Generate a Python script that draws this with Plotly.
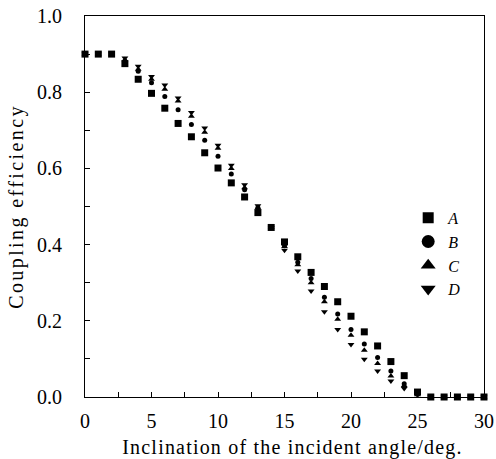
import plotly.graph_objects as go

angles = list(range(0, 31))
A = [0.9, 0.9, 0.9, 0.875, 0.834, 0.797, 0.758, 0.718, 0.683, 0.641, 0.601, 0.562, 0.525, 0.484, 0.445,
     0.407, 0.368, 0.327, 0.290, 0.250, 0.212, 0.171, 0.134, 0.093, 0.056, 0.013, 0, 0, 0, 0, 0]
B = [0.9, 0.9, 0.9, 0.880, 0.855, 0.825, 0.789, 0.754, 0.715, 0.674, 0.632, 0.585, 0.544, 0.497, 0.445,
     0.397, 0.354, 0.311, 0.262, 0.218, 0.177, 0.139, 0.104, 0.068, 0.035, 0.008, 0, 0, 0, 0, 0]
C = [0.9, 0.9, 0.9, 0.885, 0.860, 0.834, 0.808, 0.777, 0.737, 0.695, 0.653, 0.600, 0.549, 0.497, 0.445,
     0.395, 0.347, 0.300, 0.250, 0.204, 0.162, 0.123, 0.088, 0.055, 0.030, 0.006, 0, 0, 0, 0, 0]
D = [0.9, 0.9, 0.9, 0.890, 0.868, 0.841, 0.819, 0.785, 0.747, 0.706, 0.661, 0.608, 0.557, 0.502, 0.445,
     0.385, 0.331, 0.278, 0.224, 0.177, 0.138, 0.099, 0.068, 0.042, 0.022, 0.005, 0, 0, 0, 0, 0]

series_names = ["A", "B", "C", "D"]
series_vals = [A, B, C, D]
symbols = ["square", "circle", "triangle-up", "triangle-down"]
plot_sizes = [7, 5, 6, 6]
legend_sizes = [11, 13, 13, 13]

x_tickvals = [0, 5, 10, 15, 20, 25, 30]
y_tickvals = [0, 0.2, 0.4, 0.6, 0.8, 1.0]
y_ticktext = ["0.0", "0.2", "0.4", "0.6", "0.8", "1.0"]

FONT = "Liberation Serif"

fig = go.Figure()
# draw order: D, C, B, A so that A squares are on top
for i in [3, 2, 1, 0]:
    fig.add_trace(go.Scatter(
        x=angles, y=series_vals[i], mode="markers", showlegend=False,
        marker=dict(symbol=symbols[i], size=plot_sizes[i], color="black", line=dict(width=0)),
        cliponaxis=False,
    ))
# legend entries
for i in range(4):
    fig.add_trace(go.Scatter(
        x=[None], y=[None], mode="markers", name="<i>%s</i>" % series_names[i],
        marker=dict(symbol=symbols[i], size=legend_sizes[i], color="black", line=dict(width=0)),
    ))

fig.update_layout(
    width=496, height=459,
    margin=dict(l=85, r=12, t=16, b=62),
    paper_bgcolor="white", plot_bgcolor="white",
    font=dict(family=FONT, size=18, color="black"),
    legend=dict(x=0.81, y=0.515, xanchor="left", yanchor="top",
                bgcolor="rgba(0,0,0,0)", font=dict(size=16, family=FONT),
                tracegroupgap=0, itemwidth=30),
)
fig.update_xaxes(
    range=[0, 30], tickvals=x_tickvals, ticktext=[str(v) for v in x_tickvals],
    ticks="inside", ticklen=5, tickcolor="black", showline=True, linecolor="black", linewidth=1,
    mirror=True, showgrid=False, zeroline=False, automargin=False, ticklabeloverflow="allow",
    minor=dict(dtick=2.5, ticks="inside", ticklen=5, tickcolor="black", showgrid=False),
    tickfont=dict(size=20, family=FONT), ticklabelstandoff=6,
    title=dict(text="Inclination of the incident angle/deg.", font=dict(size=20, family=FONT), standoff=8),
)
fig.update_yaxes(
    range=[0, 1.0], tickvals=y_tickvals, ticktext=y_ticktext,
    ticks="inside", ticklen=5, tickcolor="black", showline=True, linecolor="black", linewidth=1,
    mirror=True, showgrid=False, zeroline=False, automargin=False, ticklabeloverflow="allow",
    minor=dict(dtick=0.1, ticks="inside", ticklen=5, tickcolor="black", showgrid=False),
    tickfont=dict(size=20, family=FONT), ticklabelstandoff=18,
    title=dict(text="Coupling efficiency", font=dict(size=20, family=FONT), standoff=8),
)

post = (
    "document.body.style.margin='0';"
    "document.body.style.overflow='hidden';"
    "document.querySelectorAll('.g-xtitle text').forEach(function(e){e.style.letterSpacing='1.2px';"
    "e.setAttribute('transform', 'translate(8,0)');});"
    "document.querySelectorAll('.g-ytitle text').forEach(function(e){e.style.letterSpacing='2.4px';});"
)
fig.write_html("out.html", post_script=post, config={"displayModeBar": False})
